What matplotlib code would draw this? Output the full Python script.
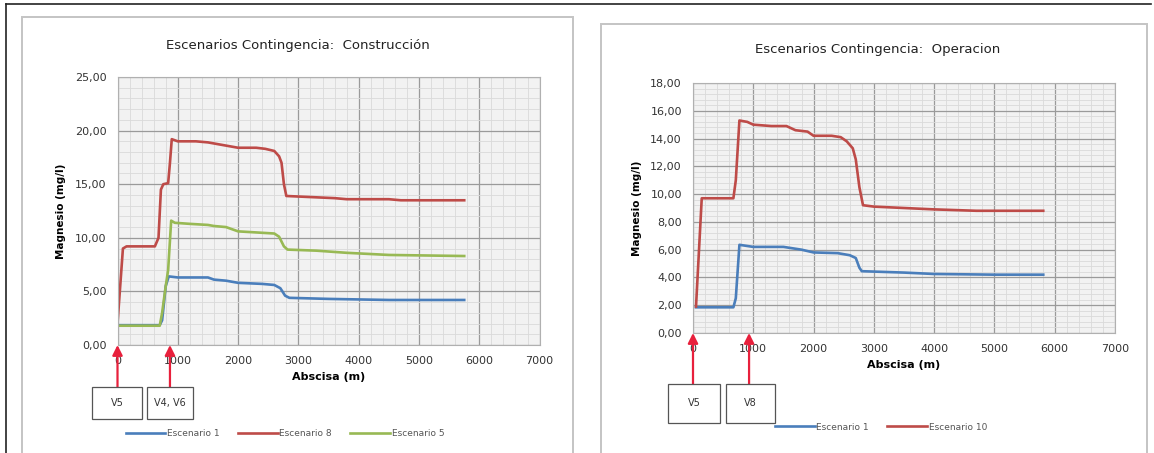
import matplotlib
matplotlib.use("Agg")
from matplotlib import pyplot as plt
from matplotlib.ticker import MultipleLocator, FuncFormatter
from matplotlib.patches import Rectangle
from matplotlib.lines import Line2D

# --- data (abscisa in m, magnesio in mg/l) ---
c_esc1_x = [0, 700, 740, 800, 850, 1000, 1500, 1600, 1800, 2000, 2400, 2600, 2700, 2780, 2850, 3500, 4500, 5750]
c_esc1_y = [1.85, 1.85, 2.3, 5.5, 6.4, 6.3, 6.3, 6.1, 6.0, 5.8, 5.7, 5.6, 5.3, 4.6, 4.4, 4.3, 4.2, 4.2]

c_esc8_x = [0, 90, 150, 620, 680, 720, 760, 840, 870, 900, 1000, 1300, 1500, 1700, 1900, 2000, 2300, 2450,
            2600, 2680, 2720, 2760, 2800, 3200, 3600, 3800, 4500, 4700, 5000, 5750]
c_esc8_y = [2.0, 9.0, 9.2, 9.2, 10.0, 14.5, 15.0, 15.1, 17.0, 19.2, 19.0, 19.0, 18.9, 18.7, 18.5, 18.4, 18.4, 18.3,
            18.1, 17.6, 17.0, 15.0, 13.9, 13.8, 13.7, 13.6, 13.6, 13.5, 13.5, 13.5]

c_esc5_x = [0, 700, 740, 800, 840, 890, 950, 1200, 1500, 1600, 1800, 1900, 2000, 2300, 2600, 2680, 2760, 2820,
            3300, 3800, 4500, 5750]
c_esc5_y = [1.8, 1.8, 3.0, 5.5, 7.0, 11.6, 11.4, 11.3, 11.2, 11.1, 11.0, 10.8, 10.6, 10.5, 10.4, 10.1, 9.2, 8.9,
            8.8, 8.6, 8.4, 8.3]

o_esc1_x = [50, 670, 710, 770, 1000, 1500, 1800, 2000, 2400, 2600, 2700, 2760, 2800, 3500, 4000, 5000, 5810]
o_esc1_y = [1.85, 1.85, 2.5, 6.35, 6.2, 6.2, 6.0, 5.8, 5.75, 5.6, 5.4, 4.7, 4.45, 4.35, 4.25, 4.2, 4.2]

o_esc10_x = [50, 145, 300, 670, 710, 770, 900, 1000, 1300, 1550, 1700, 1900, 2000, 2300, 2450, 2550, 2650,
             2700, 2760, 2820, 3000, 3500, 4000, 4700, 5810]
o_esc10_y = [1.9, 9.7, 9.7, 9.7, 11.0, 15.3, 15.2, 15.0, 14.9, 14.9, 14.6, 14.5, 14.2, 14.2, 14.1, 13.8, 13.3,
             12.5, 10.5, 9.2, 9.1, 9.0, 8.9, 8.8, 8.8]

c_marks = [0, 870]
c_marks_lbl = ["V5", "V4, V6"]
o_marks = [0, 930]
o_marks_lbl = ["V5", "V8"]

W, H = 1154, 453
BLUE = "#4a7ebb"
RED = "#be4b48"
GREEN = "#98b954"
ARROW = "#e8203c"


def fx(x):
    return x / W


def fy(y):
    return 1 - y / H


def comma(v, pos):
    return ("%.2f" % v).replace(".", ",")


def style_axes(ax, ymax, ymaj, ymin):
    ax.set_facecolor("#f2f2f2")
    ax.set_xlim(0, 7000)
    ax.set_ylim(0, ymax)
    ax.xaxis.set_major_locator(MultipleLocator(1000))
    ax.xaxis.set_minor_locator(MultipleLocator(200))
    ax.yaxis.set_major_locator(MultipleLocator(ymaj))
    ax.yaxis.set_minor_locator(MultipleLocator(ymin))
    ax.yaxis.set_major_formatter(FuncFormatter(comma))
    ax.grid(which="major", color="#9a9a9a", linewidth=0.9)
    ax.grid(which="minor", color="#dadada", linewidth=0.6)
    ax.set_axisbelow(True)
    ax.tick_params(which="both", length=0, labelsize=8, colors="#333333", pad=8)
    for s in ax.spines.values():
        s.set_color("#b0b0b0")
        s.set_linewidth(0.8)
    ax.set_ylabel("Magnesio (mg/l)", fontsize=7.5, fontweight="bold", labelpad=6)
    ax.set_xlabel("Abscisa (m)", fontsize=8, fontweight="bold", labelpad=4)


def add_marks(fig, ax, marks, labels, boxes, ax_bottom, ax_top, box_top, box_bot):
    for m, lbl, (bx0, bx1) in zip(marks, labels, boxes):
        ax.annotate("", xy=(m, 0), xycoords="data",
                    xytext=(m, -(box_top - ax_bottom) / (ax_bottom - ax_top)),
                    textcoords=ax.get_xaxis_transform(), annotation_clip=False,
                    arrowprops=dict(arrowstyle="-|>,head_length=0.6,head_width=0.3",
                                    color=ARROW, lw=1.6, shrinkA=0, shrinkB=0))
        fig.add_artist(Rectangle((fx(bx0), fy(box_bot)), fx(bx1 - bx0), (box_bot - box_top) / H,
                                 transform=fig.transFigure, facecolor="white",
                                 edgecolor="#555555", linewidth=0.9))
        fig.text(fx((bx0 + bx1) / 2), fy((box_top + box_bot) / 2), lbl, fontsize=7,
                 ha="center", va="center", color="#333333")


plt.rcParams["font.family"] = "DejaVu Sans"
fig = plt.figure(figsize=(W / 100, H / 100), dpi=100)

# outer frames
fig.add_artist(Line2D([fx(6), fx(1151)], [fy(4), fy(4)], transform=fig.transFigure, color="#222222", lw=1.2))
fig.add_artist(Line2D([fx(6), fx(6)], [fy(4), fy(453)], transform=fig.transFigure, color="#222222", lw=1.2))
fig.add_artist(Rectangle((fx(22), fy(460)), fx(573 - 22), (460 - 17) / H, transform=fig.transFigure,
                         facecolor="none", edgecolor="#c4c4c4", lw=1.4))
fig.add_artist(Rectangle((fx(601), fy(460)), fx(1147 - 601), (460 - 24) / H, transform=fig.transFigure,
                         facecolor="none", edgecolor="#c4c4c4", lw=1.4))

# --- left: construccion ---
ax1 = fig.add_axes([fx(117.5), fy(345), fx(539.6 - 117.5), (345 - 77) / H])
style_axes(ax1, 25, 5, 1)
ax1.plot(c_esc1_x, c_esc1_y, color=BLUE, lw=1.9, label="Escenario 1")
ax1.plot(c_esc8_x, c_esc8_y, color=RED, lw=1.9, label="Escenario 8")
ax1.plot(c_esc5_x, c_esc5_y, color=GREEN, lw=1.9, label="Escenario 5")
fig.text(fx(298), fy(45), "Escenarios Contingencia:  Construcción", fontsize=9.5,
         ha="center", va="center", color="#222222")
ax1.legend(loc="center", bbox_to_anchor=(fx(285), fy(434)), bbox_transform=fig.transFigure,
           ncol=3, frameon=False, fontsize=6.5, handlelength=4.4, handletextpad=0.2,
           columnspacing=2.0, labelcolor="#555555")
add_marks(fig, ax1, c_marks, c_marks_lbl, [(92, 142), (147, 193)], 345, 77, 387, 419)

# --- right: operacion ---
ax2 = fig.add_axes([fx(693), fy(333), fx(1115 - 693), (333 - 83) / H])
style_axes(ax2, 18, 2, 0.4)
ax2.plot(o_esc1_x, o_esc1_y, color=BLUE, lw=1.9, label="Escenario 1")
ax2.plot(o_esc10_x, o_esc10_y, color=RED, lw=1.9, label="Escenario 10")
fig.text(fx(878), fy(50), "Escenarios Contingencia:  Operacion", fontsize=9.5,
         ha="center", va="center", color="#222222")
ax2.legend(loc="center", bbox_to_anchor=(fx(881), fy(427)), bbox_transform=fig.transFigure,
           ncol=2, frameon=False, fontsize=6.5, handlelength=4.4, handletextpad=0.2,
           columnspacing=2.0, labelcolor="#555555")
add_marks(fig, ax2, o_marks, o_marks_lbl, [(668, 720), (726, 775)], 333, 83, 384, 423)

fig.savefig("out.png", dpi=100)
